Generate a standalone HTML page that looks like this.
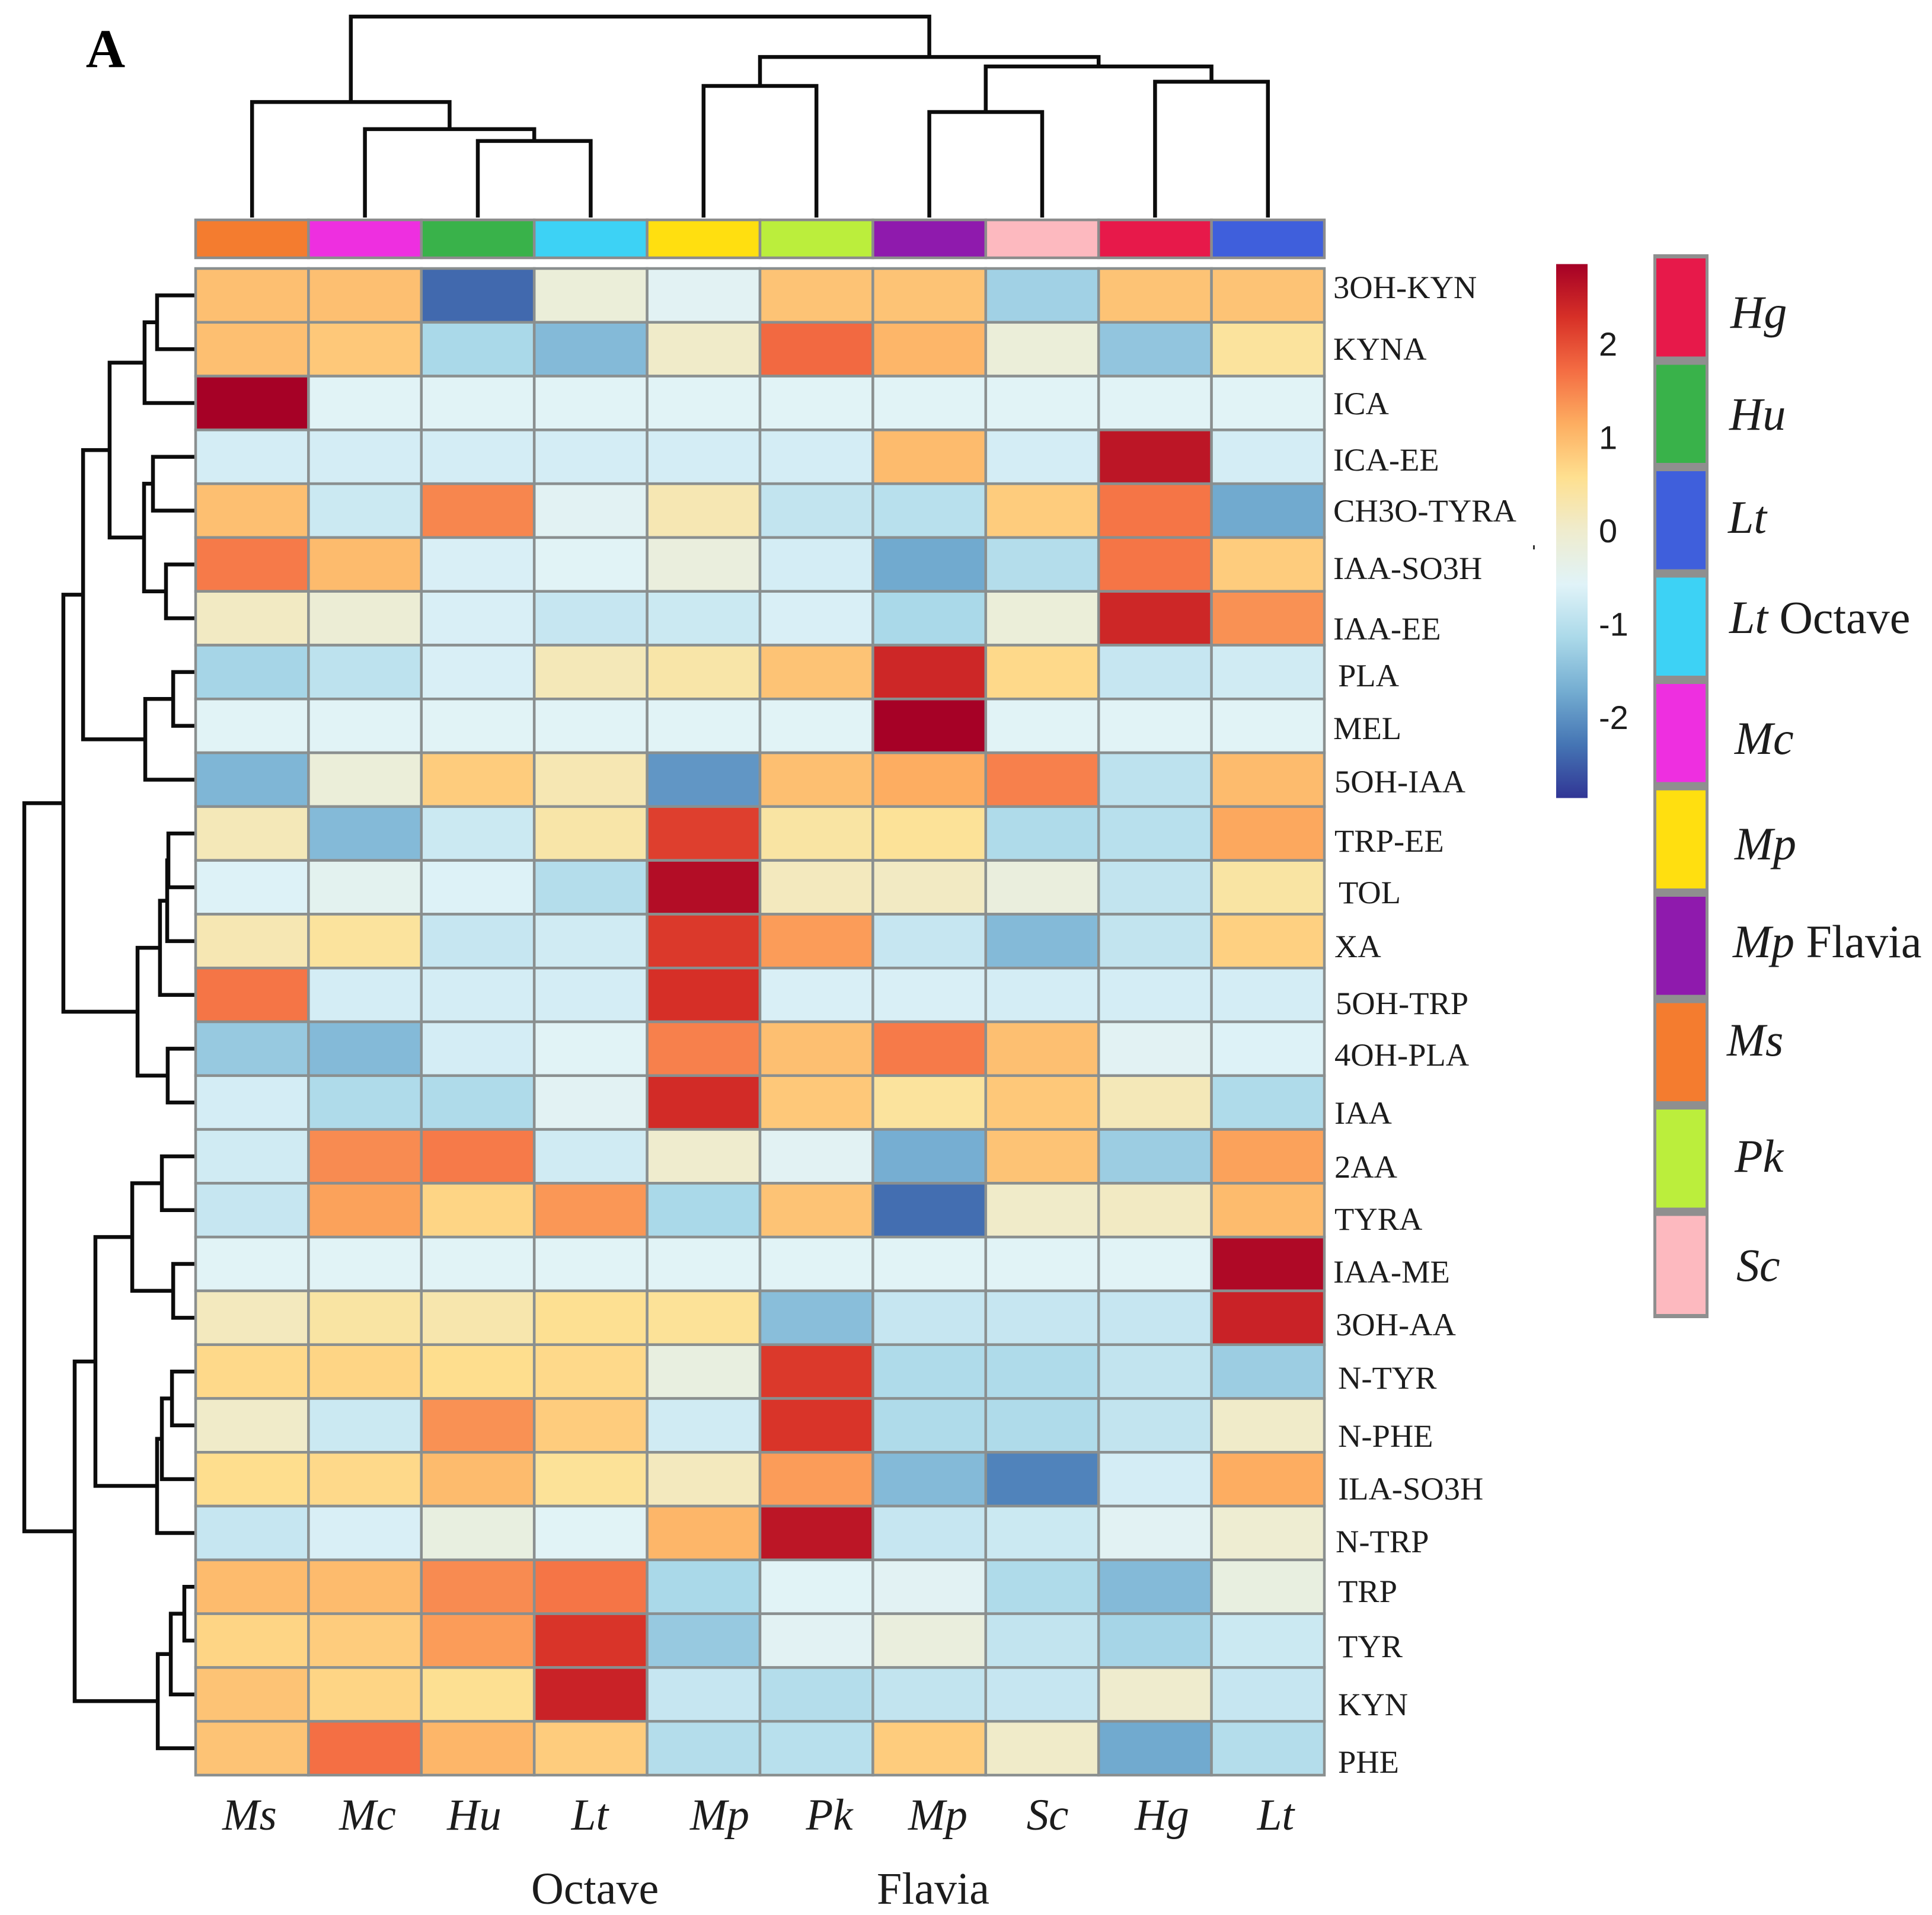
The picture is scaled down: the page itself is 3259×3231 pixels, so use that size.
<!DOCTYPE html>
<html lang="en">
<head>
<meta charset="utf-8">
<title>Clustered heatmap of metabolites</title>
<style>
html,body{margin:0;padding:0;background:#fff;width:3259px;height:3231px;overflow:hidden}
svg{display:block}
text{font-family:"Liberation Serif",serif;fill:#1c1c1c}
.row-label{font-size:54.5px}
.col-label{font-size:75px;font-style:italic}
.group-label{font-size:76px}
.legend-label{font-size:78px;font-style:italic}
.legend-label tspan{font-style:normal}
.tick{font-family:"Liberation Sans",sans-serif;font-size:56px}
</style>
</head>
<body>
<svg id="chart" xmlns="http://www.w3.org/2000/svg" width="3259" height="3231" viewBox="0 0 3259 3231">
<rect x="0" y="0" width="3259" height="3231" fill="#fff"/>
<text x="178" y="113" text-anchor="middle" font-size="92" font-weight="bold" style="fill:#000">A</text>
<g id="col-dendro"></g>
<g id="row-dendro"></g>
<g id="annot"></g>
<g id="heat"></g>
<g>
<text class="row-label" x="2249" y="503">3OH-KYN</text>
<text class="row-label" x="2249" y="607">KYNA</text>
<text class="row-label" x="2249" y="699">ICA</text>
<text class="row-label" x="2249" y="794">ICA-EE</text>
<text class="row-label" x="2249" y="880">CH3O-TYRA</text>
<text class="row-label" x="2249" y="977">IAA-SO3H</text>
<text class="row-label" x="2249" y="1079">IAA-EE</text>
<text class="row-label" x="2257" y="1158">PLA</text>
<text class="row-label" x="2249" y="1247">MEL</text>
<text class="row-label" x="2251" y="1337">5OH-IAA</text>
<text class="row-label" x="2251" y="1437">TRP-EE</text>
<text class="row-label" x="2258" y="1524">TOL</text>
<text class="row-label" x="2251" y="1615">XA</text>
<text class="row-label" x="2253" y="1711">5OH-TRP</text>
<text class="row-label" x="2251" y="1798">4OH-PLA</text>
<text class="row-label" x="2251" y="1896">IAA</text>
<text class="row-label" x="2251" y="1987">2AA</text>
<text class="row-label" x="2251" y="2075">TYRA</text>
<text class="row-label" x="2249" y="2164">IAA-ME</text>
<text class="row-label" x="2253" y="2253">3OH-AA</text>
<text class="row-label" x="2257" y="2343">N-TYR</text>
<text class="row-label" x="2257" y="2441">N-PHE</text>
<text class="row-label" x="2257" y="2530">ILA-SO3H</text>
<text class="row-label" x="2253" y="2619">N-TRP</text>
<text class="row-label" x="2257" y="2703">TRP</text>
<text class="row-label" x="2257" y="2796">TYR</text>
<text class="row-label" x="2257" y="2894">KYN</text>
<text class="row-label" x="2257" y="2991">PHE</text>
</g>
<g>
<text class="col-label" x="421" y="3087" text-anchor="middle">Ms</text>
<text class="col-label" x="620" y="3087" text-anchor="middle">Mc</text>
<text class="col-label" x="800" y="3087" text-anchor="middle">Hu</text>
<text class="col-label" x="995" y="3087" text-anchor="middle">Lt</text>
<text class="col-label" x="1214" y="3087" text-anchor="middle">Mp</text>
<text class="col-label" x="1399" y="3087" text-anchor="middle">Pk</text>
<text class="col-label" x="1582" y="3087" text-anchor="middle">Mp</text>
<text class="col-label" x="1767" y="3087" text-anchor="middle">Sc</text>
<text class="col-label" x="1960" y="3087" text-anchor="middle">Hg</text>
<text class="col-label" x="2152" y="3087" text-anchor="middle">Lt</text>
<text class="group-label" x="896" y="3212">Octave</text>
<text class="group-label" x="1479" y="3212">Flavia</text>
</g>
<defs id="defs"></defs>
<g id="colorbar"></g>
<rect x="2586" y="920" width="3" height="7" fill="#333"/>
<g id="legend"></g>
<g>
<text class="legend-label" x="2919" y="553">Hg</text>
<text class="legend-label" x="2917" y="725">Hu</text>
<text class="legend-label" x="2915" y="899">Lt</text>
<text class="legend-label" x="2917" y="1068">Lt <tspan>Octave</tspan></text>
<text class="legend-label" x="2926" y="1272">Mc</text>
<text class="legend-label" x="2926" y="1450">Mp</text>
<text class="legend-label" x="2923" y="1615">Mp <tspan>Flavia</tspan></text>
<text class="legend-label" x="2913" y="1781">Ms</text>
<text class="legend-label" x="2926" y="1977">Pk</text>
<text class="legend-label" x="2929" y="2161">Sc</text>
</g>
</svg>
<script>
const rowNames = ["3OH-KYN","KYNA","ICA","ICA-EE","CH3O-TYRA","IAA-SO3H","IAA-EE","PLA","MEL","5OH-IAA","TRP-EE","TOL","XA","5OH-TRP","4OH-PLA","IAA","2AA","TYRA","IAA-ME","3OH-AA","N-TYR","N-PHE","ILA-SO3H","N-TRP","TRP","TYR","KYN","PHE"];
const colNames = ["Ms","Mc","Hu","Lt Octave","Mp","Pk","Mp Flavia","Sc","Hg","Lt"];
const heatValues = [
[0.95,0.95,-2.4,-0.15,-0.5,0.9,0.9,-1.25,0.9,0.9],
[0.95,0.85,-1.15,-1.55,0.05,1.75,1.05,-0.15,-1.4,0.45],
[2.85,-0.55,-0.55,-0.55,-0.55,-0.55,-0.55,-0.55,-0.55,-0.55],
[-0.7,-0.7,-0.7,-0.7,-0.7,-0.7,1.0,-0.7,2.6,-0.7],
[0.95,-0.8,1.5,-0.5,0.25,-0.9,-1.0,0.8,1.65,-1.75],
[1.6,1.0,-0.65,-0.55,-0.2,-0.7,-1.75,-1.05,1.65,0.8],
[0.1,-0.1,-0.65,-0.85,-0.8,-0.65,-1.15,-0.15,2.4,1.4],
[-1.2,-0.95,-0.65,0.2,0.35,0.9,2.4,0.65,-0.85,-0.75],
[-0.55,-0.55,-0.55,-0.55,-0.55,-0.55,2.85,-0.55,-0.55,-0.55],
[-1.6,-0.15,0.8,0.25,-1.95,0.95,1.15,1.55,-0.95,1.0],
[0.2,-1.55,-0.8,0.35,2.15,0.4,0.5,-1.1,-1.0,1.2],
[-0.6,-0.45,-0.6,-1.05,2.7,0.15,0.1,-0.2,-0.9,0.4],
[0.25,0.45,-0.85,-0.75,2.2,1.3,-0.85,-1.55,-0.9,0.75],
[1.65,-0.7,-0.7,-0.7,2.3,-0.65,-0.65,-0.7,-0.7,-0.7],
[-1.35,-1.55,-0.7,-0.55,1.55,0.95,1.6,0.95,-0.5,-0.6],
[-0.7,-1.1,-1.1,-0.5,2.35,0.85,0.45,0.85,0.2,-1.1],
[-0.75,1.45,1.6,-0.75,0.0,-0.5,-1.7,0.9,-1.3,1.25],
[-0.85,1.25,0.7,1.35,-1.15,0.9,-2.35,0.05,0.1,1.0],
[-0.55,-0.55,-0.55,-0.55,-0.55,-0.55,-0.55,-0.55,-0.55,2.75],
[0.15,0.4,0.3,0.55,0.5,-1.5,-0.85,-0.85,-0.85,2.45],
[0.65,0.7,0.6,0.65,-0.25,2.2,-1.1,-1.1,-0.9,-1.3],
[0.05,-0.8,1.4,0.8,-0.75,2.25,-1.1,-1.1,-0.9,0.05],
[0.6,0.65,1.0,0.5,0.15,1.3,-1.55,-2.15,-0.7,1.15],
[-0.85,-0.65,-0.25,-0.55,1.05,2.6,-0.85,-0.8,-0.5,-0.05],
[1.0,1.0,1.45,1.65,-1.15,-0.55,-0.5,-1.1,-1.55,-0.25],
[0.7,0.8,1.3,2.25,-1.35,-0.5,-0.2,-0.9,-1.2,-0.8],
[0.9,0.7,0.55,2.45,-0.85,-1.05,-0.9,-0.85,0.0,-0.85],
[0.9,1.7,1.05,0.8,-1.05,-1.0,0.8,0.05,-1.75,-1.05]
];
/* linkage tables: [childA, childB, merge height]; ids past the leaf count refer to earlier merges */
const colLinkage = [[2,3,38.1],[1,10,44],[0,11,57.5],[4,5,65.5],[6,7,52.5],[8,9,67.6],[14,15,75.2],[13,16,79.9],[12,17,100]];
const rowLinkage = [[0,1,22.5],[28,2,29.8],[3,4,24.9],[5,6,17.3],[30,31,30.1],[29,32,50.2],[7,8,13.1],[34,9,29.4],[33,35,65.7],[10,11,15.9],[37,12,16.6],[38,13,20.8],[14,15,16.3],[39,40,33.9],[36,41,77.2],[16,17,19.7],[18,19,13.1],[43,44,37.0],[20,21,13.8],[46,22,19.7],[47,23,22.5],[45,48,58.5],[24,25,6.6],[50,26,14.5],[51,27,22.1],[49,52,70.6],[42,53,100]];
const colorStops = ["#313695","#4575b4","#74add1","#abd9e9","#e0f3f8","#efecce","#fee090","#fdae61","#f46d43","#d73027","#a50026"];
const scaleTicks = [2,1,0,-1,-2];
const scaleMax = 2.86;
const sampleColors = ["#f47c2f","#ee2fe0","#39b24a","#3dd2f5","#ffdf10","#bbee3c","#8f1aad","#fdb9bf","#e7194a","#3f5fdc"];
const legendNames = ["Hg","Hu","Lt","Lt Octave","Mc","Mp","Mp Flavia","Ms","Pk","Sc"];
const legendColors = ["#e7194a","#39b24a","#3f5fdc","#3dd2f5","#ee2fe0","#ffdf10","#8f1aad","#f47c2f","#bbee3c","#fdb9bf"];

const NS = "http://www.w3.org/2000/svg";
const plotLeft = 330, plotRight = 2234, plotTop = 453, plotBottom = 2995;
const cellW = (plotRight - plotLeft) / colNames.length;
const cellH = (plotBottom - plotTop) / rowNames.length;
const colX = i => plotLeft + cellW * (i + 0.5);
const rowY = i => plotTop + cellH * (i + 0.5);
const dendroTopY = h => 367 - (367 - 28) * h / 100;
const dendroLeftX = h => 330 - (330 - 41) * h / 100;
const scaleY = v => 896 - v * 157.5;

function make(parent, tag, attrs) {
  const el = document.createElementNS(NS, tag);
  for (const k in attrs) el.setAttribute(k, attrs[k]);
  parent.appendChild(el);
  return el;
}
function hexRgb(h) {
  return [parseInt(h.slice(1,3),16), parseInt(h.slice(3,5),16), parseInt(h.slice(5,7),16)];
}
function valueColor(v) {
  const t = Math.max(0, Math.min(1, (v + scaleMax) / (2 * scaleMax))) * (colorStops.length - 1);
  const i = Math.min(colorStops.length - 2, Math.floor(t));
  const f = t - i, a = hexRgb(colorStops[i]), b = hexRgb(colorStops[i + 1]);
  return "rgb(" + a.map((c, k) => Math.round(c + (b[k] - c) * f)).join(",") + ")";
}

/* heatmap cells */
const heat = document.getElementById("heat");
heatValues.forEach((row, r) => {
  row.forEach((v, c) => {
    const cell = make(heat, "rect", {
      x: plotLeft + cellW * c, y: plotTop + cellH * r,
      width: cellW, height: cellH,
      fill: valueColor(v), stroke: "#8a8f8f", "stroke-width": 4.5
    });
    
    
  });
});

/* annotation bar */
const annot = document.getElementById("annot");
sampleColors.forEach((color, c) => {
  const swatch = make(annot, "rect", {
    x: plotLeft + cellW * c, y: 371, width: cellW, height: 64,
    fill: color, stroke: "#8c8c8c", "stroke-width": 4.5
  });
  
  
});

/* dendrograms */
function drawDendrogram(group, linkage, leafCount, leafPos, heightPos, vertical) {
  const nodes = [];
  for (let i = 0; i < leafCount; i++) nodes.push({ pos: leafPos(i), h: 0 });
  linkage.forEach(m => {
    const a = nodes[m[0]], b = nodes[m[1]], h = m[2], p = heightPos(h);
    const pa = heightPos(a.h), pb = heightPos(b.h);
    const d = vertical
      ? "M" + a.pos + " " + pa + "V" + p + "H" + b.pos + "V" + pb
      : "M" + pa + " " + a.pos + "H" + p + "V" + b.pos + "H" + pb;
    const link = make(group, "path", { d: d, fill: "none", stroke: "#0c0c0c", "stroke-width": 6.5 });
    
    
    nodes.push({ pos: (a.pos + b.pos) / 2, h: h });
  });
}
drawDendrogram(document.getElementById("col-dendro"), colLinkage, colNames.length, colX, dendroTopY, true);
drawDendrogram(document.getElementById("row-dendro"), rowLinkage, rowNames.length, rowY, dendroLeftX, false);

/* colour scale */
const grad = make(document.getElementById("defs"), "linearGradient", { id: "scaleGrad", x1: 0, y1: 1, x2: 0, y2: 0 });
colorStops.forEach((c, i) => {
  make(grad, "stop", { offset: i / (colorStops.length - 1), "stop-color": c });
});
const cb = document.getElementById("colorbar");
const cbRect = make(cb, "rect", { x: 2625, y: scaleY(scaleMax), width: 53, height: scaleY(-scaleMax) - scaleY(scaleMax), fill: "url(#scaleGrad)" });


scaleTicks.forEach(t => {
  const label = make(cb, "text", { class: "tick", x: 2697, y: scaleY(t) + 19 });
  label.textContent = String(t);
  
  
});

/* sample legend */
const legend = document.getElementById("legend");
const legendTop = 429, legendStep = 179.5;
const legendFrame = make(legend, "rect", { x: 2789, y: legendTop, width: 93, height: legendStep * legendColors.length, fill: "#8f8f8f" });


legendColors.forEach((color, i) => {
  const sw = make(legend, "rect", { x: 2794, y: legendTop + legendStep * i + 7, width: 83, height: legendStep - 14, fill: color });
  
  
});
</script>
</body>
</html>
